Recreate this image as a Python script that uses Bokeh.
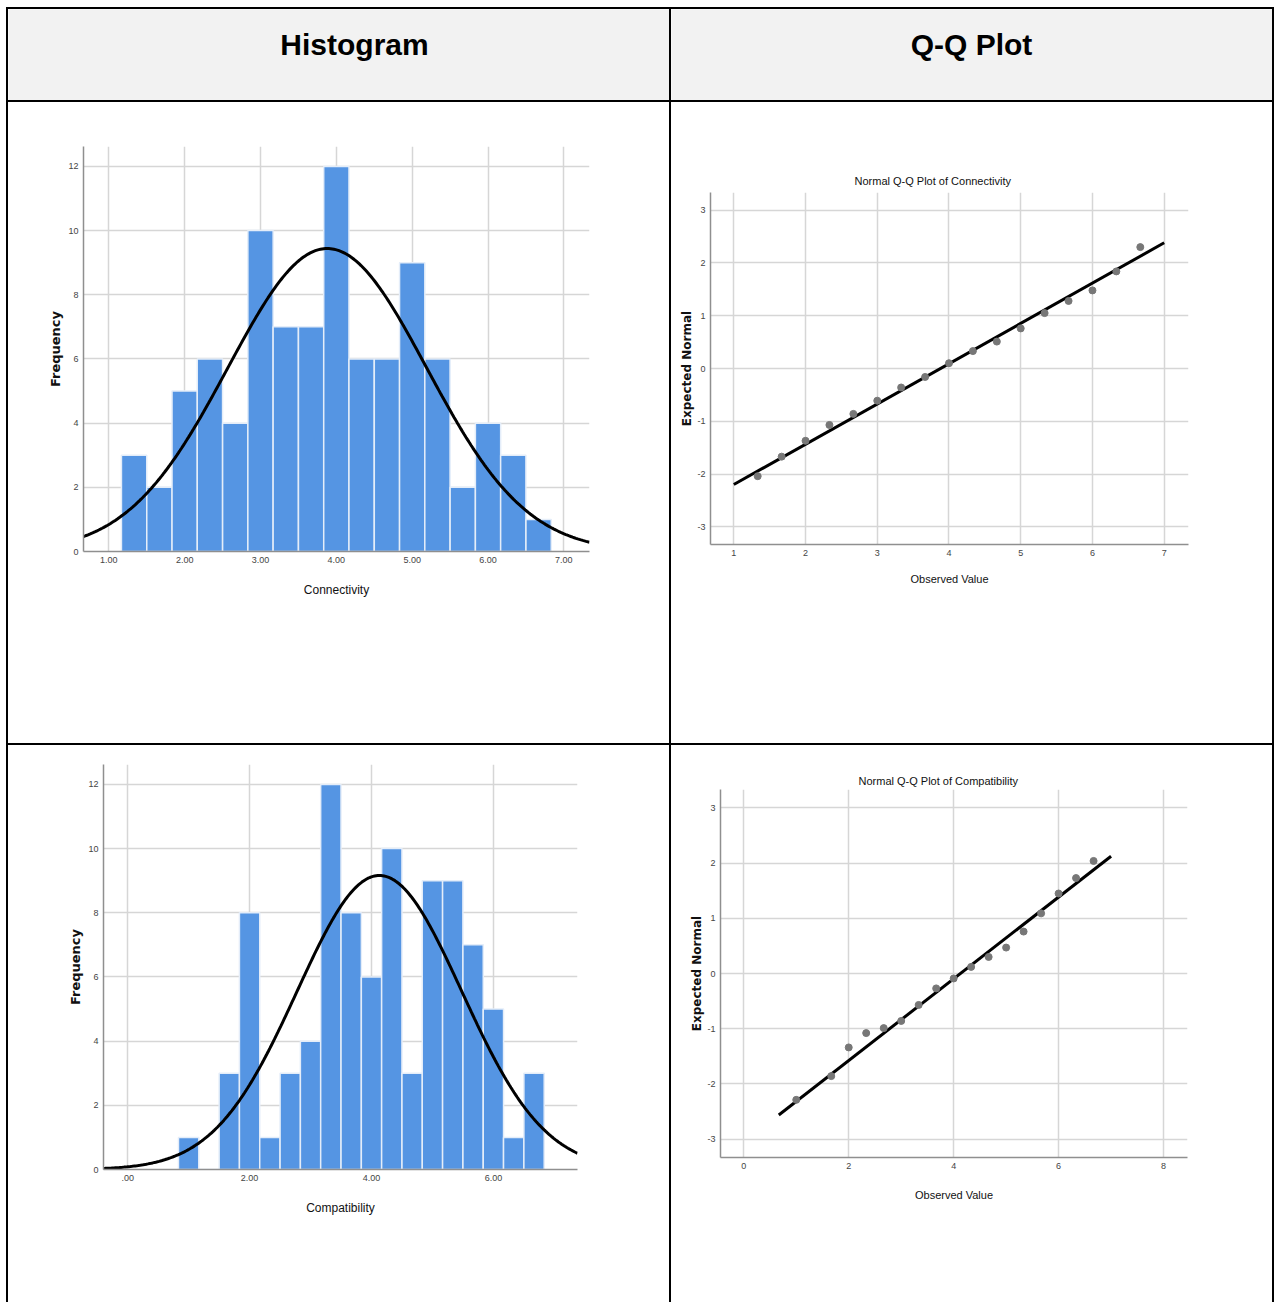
import numpy as np
from bokeh.plotting import figure
from bokeh.layouts import row, column
from bokeh.models import Div, Spacer, Range1d, FixedTicker, Label
from bokeh.embed import file_html
from bokeh.resources import INLINE

# ---------------- data ----------------
BIN_WIDTH = 1 / 3

# Connectivity: histogram bins (midpoints) and frequencies
conn_bins = [1.333, 1.667, 2.0, 2.333, 2.667, 3.0, 3.333, 3.667, 4.0,
             4.333, 4.667, 5.0, 5.333, 5.667, 6.0, 6.333, 6.667]
conn_counts = [3, 2, 5, 6, 4, 10, 7, 7, 12, 6, 6, 9, 6, 2, 4, 3, 1]
conn_mean, conn_sd, conn_n = 3.88, 1.31, 93

# Compatibility: histogram bins (midpoints) and frequencies
comp_bins = [1.0, 1.333, 1.667, 2.0, 2.333, 2.667, 3.0, 3.333, 3.667, 4.0,
             4.333, 4.667, 5.0, 5.333, 5.667, 6.0, 6.333, 6.667]
comp_counts = [1, 0, 3, 8, 1, 3, 4, 12, 8, 6, 10, 3, 9, 9, 7, 5, 1, 3]
comp_mean, comp_sd, comp_n = 4.13, 1.35, 93

# Normal Q-Q points: observed value vs expected normal
conn_qq_obs = [1.333, 1.667, 2.0, 2.333, 2.667, 3.0, 3.333, 3.667, 4.0,
               4.333, 4.667, 5.0, 5.333, 5.667, 6.0, 6.333, 6.667]
conn_qq_exp = [-2.04, -1.67, -1.37, -1.07, -0.86, -0.61, -0.36, -0.16, 0.10,
               0.33, 0.51, 0.76, 1.05, 1.28, 1.48, 1.84, 2.30]
conn_line_x = [1.0, 7.0]

comp_qq_obs = [1.0, 1.667, 2.0, 2.333, 2.667, 3.0, 3.333, 3.667, 4.0,
               4.333, 4.667, 5.0, 5.333, 5.667, 6.0, 6.333, 6.667]
comp_qq_exp = [-2.29, -1.86, -1.34, -1.08, -0.99, -0.86, -0.57, -0.27, -0.09,
               0.12, 0.30, 0.47, 0.76, 1.09, 1.45, 1.73, 2.04]
comp_line_x = [0.667, 7.0]

# tick values and labels
freq_ticks = [0, 2, 4, 6, 8, 10, 12]
conn_hist_ticks = [1, 2, 3, 4, 5, 6, 7]
conn_hist_labels = ["1.00", "2.00", "3.00", "4.00", "5.00", "6.00", "7.00"]
comp_hist_ticks = [0, 2, 4, 6]
comp_hist_labels = [".00", "2.00", "4.00", "6.00"]
qq_y_ticks = [-3, -2, -1, 0, 1, 2, 3]
conn_qq_ticks = [1, 2, 3, 4, 5, 6, 7]
comp_qq_ticks = [0, 2, 4, 6, 8]

# ---------------- style ----------------
SANS = "Liberation Sans"
BOLD_SANS = "DejaVu Sans"
BAR_BLUE = "#5595e3"
GRID = "#d6d6d6"
AXIS = "#8f8f8f"
TICK_TXT = "#444444"


def style_axes(p, xticks, xlabels, yticks, ylabels, xtitle, ytitle,
               x_standoff, y_standoff, xtitle_size, ytitle_size):
    for ax in (p.xaxis[0], p.yaxis[0]):
        ax.axis_line_color = AXIS
        ax.axis_line_width = 1.5
        ax.major_tick_line_color = None
        ax.minor_tick_line_color = None
        ax.major_tick_out = 0
        ax.major_tick_in = 0
        ax.minor_tick_out = 0
        ax.minor_tick_in = 0
        ax.major_label_text_font = SANS
        ax.major_label_text_font_size = "9px"
        ax.major_label_text_color = TICK_TXT
        ax.major_label_standoff = 5
    p.xaxis[0].ticker = FixedTicker(ticks=xticks)
    p.yaxis[0].ticker = FixedTicker(ticks=yticks)
    p.xaxis[0].major_label_overrides = {t: s for t, s in zip(xticks, xlabels)}
    p.yaxis[0].major_label_overrides = {t: s for t, s in zip(yticks, ylabels)}
    p.xaxis[0].axis_label = xtitle
    p.xaxis[0].axis_label_text_font = SANS
    p.xaxis[0].axis_label_text_font_size = xtitle_size
    p.xaxis[0].axis_label_text_font_style = "normal"
    p.xaxis[0].axis_label_text_color = "#111111"
    p.xaxis[0].axis_label_standoff = x_standoff
    p.yaxis[0].axis_label = ytitle
    p.yaxis[0].axis_label_text_font = BOLD_SANS
    p.yaxis[0].axis_label_text_font_size = ytitle_size
    p.yaxis[0].axis_label_text_font_style = "bold"
    p.yaxis[0].axis_label_text_color = "#111111"
    p.yaxis[0].axis_label_standoff = y_standoff
    p.xgrid.grid_line_color = GRID
    p.ygrid.grid_line_color = GRID
    p.xgrid.grid_line_width = 1.5
    p.ygrid.grid_line_width = 1.5
    p.outline_line_color = None
    p.background_fill_color = "white"
    p.border_fill_color = "white"


def base_fig(width, height, left, right, top, bottom, xr, yr):
    return figure(width=width, height=height, x_range=Range1d(*xr), y_range=Range1d(*yr),
                  toolbar_location=None, output_backend="svg", margin=0,
                  min_border_left=left, min_border_right=right,
                  min_border_top=top, min_border_bottom=bottom)


def histogram(width, height, left, right, top, bottom, xr, bins, counts,
              mean, sd, n, xticks, xlabels, xtitle):
    p = base_fig(width, height, left, right, top, bottom, xr, (0, 12.62))
    p.vbar(x=bins, width=BIN_WIDTH, top=counts, bottom=0,
           fill_color=BAR_BLUE, line_color="#e4edf9", line_width=1.5)
    xs = np.linspace(xr[0], xr[1], 300)
    ys = n * BIN_WIDTH * np.exp(-0.5 * ((xs - mean) / sd) ** 2) / (sd * np.sqrt(2 * np.pi))
    p.line(xs, ys, line_color="black", line_width=3)
    style_axes(p, xticks, xlabels, freq_ticks, [str(t) for t in freq_ticks],
               xtitle, "Frequency", 17, 2, "12px", "13px")
    return p


def qq_plot(width, height, left, right, top, bottom, xr, obs, exp, line_x,
            mean, sd, xticks, name, title_offset, title_standoff, x_standoff):
    p = base_fig(width, height, left, right, top, bottom, xr, (-3.335, 3.335))
    line_y = [(x - mean) / sd for x in line_x]
    p.line(line_x, line_y, line_color="black", line_width=3)
    p.scatter(obs, exp, size=7, fill_color="#777777", line_color="#777777")
    style_axes(p, xticks, [str(t) for t in xticks], qq_y_ticks,
               [str(t) for t in qq_y_ticks], "Observed Value", "Expected Normal",
               x_standoff, 0, "11px", "12px")
    p.title.text = "Normal Q-Q Plot of " + name
    p.title.text_font = SANS
    p.title.text_font_size = "11px"
    p.title.text_font_style = "normal"
    p.title.text_color = "#111111"
    p.title.align = "left"
    p.title.offset = title_offset
    p.title.standoff = title_standoff
    return p


def header(width, height, text, cx):
    p = figure(width=width, height=height, x_range=Range1d(0, width), y_range=Range1d(0, height),
               toolbar_location=None, output_backend="svg", min_border=0, margin=0,
               x_axis_location=None, y_axis_location=None)
    p.grid.visible = False
    p.outline_line_color = None
    p.background_fill_color = "#f2f2f2"
    p.border_fill_color = "#f2f2f2"
    p.add_layout(Label(x=cx, y=height - 35, text=text, text_align="center",
                       text_baseline="middle", text_font="Liberation Sans",
                       text_font_size="30px", text_font_style="bold",
                       text_color="black"))
    return p


def rule(w, h):
    return Div(text="", width=w, height=h, margin=0,
               styles={"background-color": "black"})


def cell(fig, w):
    # each chart sits in its own column, so neighbouring frames stay independent
    return column(Spacer(width=w, height=1, margin=0), fig, spacing=0, margin=0)


# ---------------- table geometry ----------------
LEFT_PAD, TOP_PAD = 6, 7
COL1, COL2 = 661, 601
HEAD_H, ROW1_H, ROW2_H = 91, 641, 557
LINE = 2
TOTAL_W = LINE * 3 + COL1 + COL2

h_hist = header(COL1, HEAD_H, "Histogram", 346)
h_qq = header(COL2, HEAD_H, "Q-Q Plot", 300)

hist_conn = histogram(COL1, ROW1_H - 1, 75, 80, 43, 192, (0.666, 7.338),
                      conn_bins, conn_counts, conn_mean, conn_sd, conn_n,
                      conn_hist_ticks, conn_hist_labels, "Connectivity")
qq_conn = qq_plot(COL2, ROW1_H - 1, 39, 84, 89, 199, (0.675, 7.339),
                  conn_qq_obs, conn_qq_exp, conn_line_x, conn_mean, conn_sd,
                  conn_qq_ticks, "Connectivity", 144, 12, 14)
hist_comp = histogram(COL1, ROW2_H - 1, 95, 92, 18, 133, (-0.397, 7.38),
                      comp_bins, comp_counts, comp_mean, comp_sd, comp_n,
                      comp_hist_ticks, comp_hist_labels, "Compatibility")
qq_comp = qq_plot(COL2, ROW2_H - 1, 49, 85, 43, 145, (-0.444, 8.457),
                  comp_qq_obs, comp_qq_exp, comp_line_x, comp_mean, comp_sd,
                  comp_qq_ticks, "Compatibility", 138, 6, 17)


def table_row(h, a, b):
    return row(Spacer(width=LEFT_PAD, height=h, margin=0), rule(LINE, h), a,
               rule(LINE, h), b, rule(LINE, h), spacing=0, margin=0)


def table_line():
    return row(Spacer(width=LEFT_PAD, height=LINE, margin=0), rule(TOTAL_W, LINE),
               spacing=0, margin=0)


page = column(
    Spacer(width=10, height=TOP_PAD, margin=0),
    table_line(),
    table_row(HEAD_H, h_hist, h_qq),
    table_line(),
    table_row(ROW1_H, cell(hist_conn, COL1), cell(qq_conn, COL2)),
    table_line(),
    table_row(ROW2_H, cell(hist_comp, COL1), cell(qq_comp, COL2)),
    spacing=0, margin=0,
)

open("out.html", "w").write(file_html(page, INLINE))
